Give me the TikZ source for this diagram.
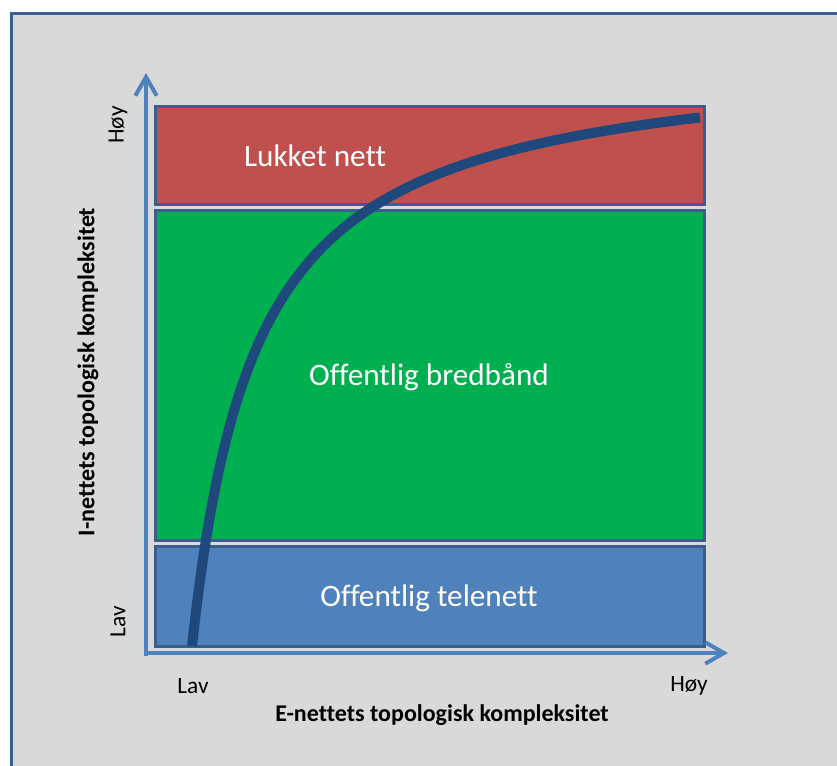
\documentclass[tikz,border=0pt]{standalone}
\usepackage{fontspec}
\setmainfont{Carlito}[Ligatures=NoCommon]
\usepackage{tikz}
\usetikzlibrary{arrows.meta}
\definecolor{bakgrunn}{HTML}{D9D9D9}
\definecolor{rammeblaa}{HTML}{3A5F8F}
\definecolor{kantblaa}{HTML}{3B5E8C}
\definecolor{akseblaa}{HTML}{4F81BD}
\definecolor{kurveblaa}{HTML}{1F497D}
\definecolor{lukketrod}{HTML}{C0504D}
\definecolor{bredgronn}{HTML}{00B050}
\definecolor{teleblaa}{HTML}{4F81BD}

\begin{document}
\begin{tikzpicture}[x=0.75pt,y=-0.75pt]
    \tikzset{zone/.style = {draw=kantblaa, line width=2.25pt}}
    \tikzset{akse/.style = {draw=akseblaa, line width=3pt, -{Straight Barb[length=14pt,width=16pt]}}}
    \tikzset{sonetekst/.style = {text=white, font=\fontsize{23.4}{28}\selectfont}}
    \tikzset{merke/.style = {font=\fontsize{17.5}{21}\selectfont}}
    \tikzset{tittel/.style = {font=\bfseries\fontsize{18}{22}\selectfont}}
    \useasboundingbox (0,0) rectangle (837,765);
    % frame
    \draw[fill=bakgrunn, draw=rammeblaa, line width=2.25pt] (11,13) rectangle (880,800);
    % zones
    \draw[zone, fill=lukketrod] (155,106) rectangle (704,204);
    \draw[zone, fill=bredgronn] (155,210) rectangle (704,540);
    \draw[zone, fill=teleblaa] (155,546) rectangle (704,646);
    \node[sonetekst] (lukket) at (315,156) {Lukket nett};
    \node[sonetekst] (bredband) at (429,377) {Offentlig bredbånd};
    \node[sonetekst] (telenett) at (429,598) {Offentlig telenett};
%%%%%%%%%%%%%%%%%
    % curve
    \draw[kurveblaa, line width=7.5pt] plot[domain=192:700, samples=150]
    (\x, {50.6 + 382.84/((\x-127.7)/100)});
%%%%%%%%%%%%%%%%%
    % axes
    \coordinate (ybunn) at (146,655.5);
    \coordinate (ytopp) at (146,73);
    \coordinate (xstart) at (143.5,653);
    \coordinate (xende) at (728,653);
    \draw[akse] (ybunn) -- (ytopp);
    \draw[akse] (xstart) -- (xende);
    % labels
    \node[merke, rotate=90] (yhoy) at (118,125) {Høy};
    \node[merke, rotate=90] (ylav) at (118,622) {Lav};
    \node[merke] (xlav) at (193,686) {Lav};
    \node[merke] (xhoy) at (689,686) {Høy};
    \node[tittel] (xtittel) at (442,715) {E-nettets topologisk kompleksitet};
    \node[tittel, rotate=90] (ytittel) at (88,372) {I-nettets topologisk kompleksitet};
\end{tikzpicture}
\end{document}
